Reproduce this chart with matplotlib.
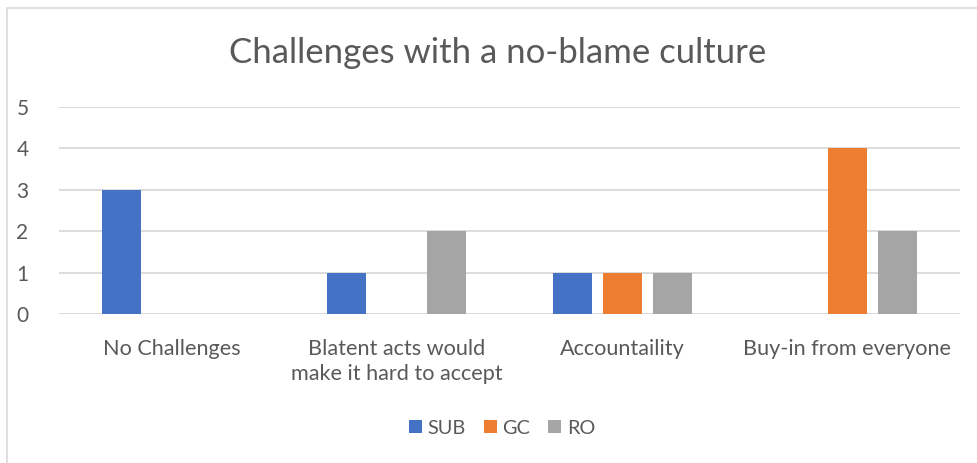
import matplotlib

matplotlib.use("Agg")
import matplotlib.pyplot as plt
import numpy as np
from matplotlib.patches import Rectangle

categories = ["No Challenges", "Blatent acts would\nmake it hard to accept",
              "Accountaility", "Buy-in from everyone"]
series = ["SUB", "GC", "RO"]
sub = [3, 1, 1, 0]
gc = [0, 0, 1, 4]
ro = [0, 2, 1, 2]
yticks = [0, 1, 2, 3, 4, 5]

colors = ["#4472C4", "#ED7D31", "#A5A5A5"]
text_c = "#595959"
grid_c = "#D9D9D9"
plt.rcParams["font.family"] = ["Lato", "DejaVu Sans"]

W, H = 977, 463
fig = plt.figure(figsize=(W / 100, H / 100), dpi=100)
# chart frame, running off the right and bottom edges
fig.patches.append(Rectangle((7 / W, -0.05), 1.1, (H - 8) / H + 0.05,
                             transform=fig.transFigure, fill=False,
                             edgecolor=grid_c, lw=1.2))

ax = fig.add_axes([59 / W, (H - 314) / H, (960 - 59) / W, (314 - 107) / H])
x = np.arange(len(categories))
width = 0.173
offset = 0.222
for i, (name, vals) in enumerate(zip(series, [sub, gc, ro])):
    ax.bar(x + (i - 1) * offset, vals, width, color=colors[i], label=name, zorder=3)

ax.set_xlim(-0.5, len(categories) - 0.5)
ax.set_ylim(0, 5)
ax.set_yticks(yticks)
ax.set_yticklabels([str(v) for v in yticks], fontsize=15, color=text_c)
ax.set_xticks(x)
ax.set_xticklabels(categories, fontsize=15.6, color=text_c, linespacing=1.3)
ax.tick_params(axis="both", length=0)
ax.tick_params(axis="y", pad=22)
ax.tick_params(axis="x", pad=18)
ax.grid(axis="y", color=grid_c, lw=1.3, zorder=0)
for s in ax.spines.values():
    s.set_visible(False)

fig.text(498 / W, 1 - 53 / H, "Challenges with a no-blame culture",
         ha="center", va="center", fontsize=25, color=text_c)

ax.legend(loc="center", bbox_to_anchor=(502 / W, 1 - 428 / H),
          bbox_transform=fig.transFigure, ncol=3, frameon=False,
          fontsize=14.3, handlelength=0.65, handleheight=0.65,
          handletextpad=0.3, columnspacing=0.9, labelcolor=text_c)

fig.savefig("out.png", dpi=100)
